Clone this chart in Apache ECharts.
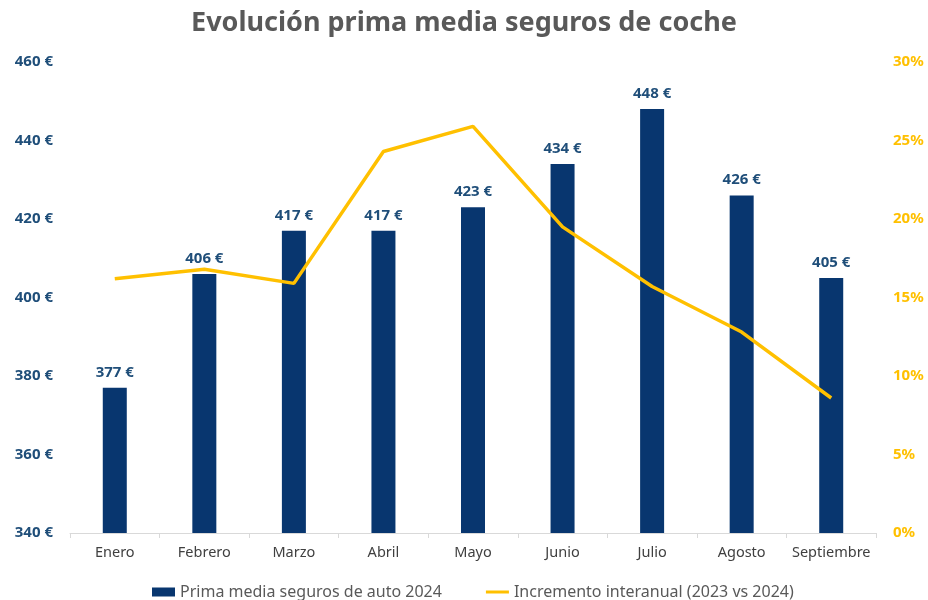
<!DOCTYPE html>
<html lang="es">
  <head>
    <meta charset="UTF-8" />
    <title>Evolución prima media seguros de coche</title>
    <script src="https://cdn.jsdelivr.net/npm/echarts@6/dist/echarts.min.js"></script>
    <style>
      html, body { margin: 0; padding: 0; background: #fff; }
      #chart { width: 928px; height: 600px; }
    </style>
  </head>
  <body>
    <div id="chart"></div>
    <script>
      var months = ["Enero", "Febrero", "Marzo", "Abril", "Mayo", "Junio", "Julio", "Agosto", "Septiembre"];
      var prima = [377, 406, 417, 417, 423, 434, 448, 426, 405];
      var incremento = [16.2, 16.8, 15.9, 24.3, 25.9, 19.5, 15.7, 12.8, 8.6];

      var blue = "#08366f";
      var labelBlue = "#1f4e79";
      var yellow = "#ffc000";
      var font = "Noto Sans";

      var chart = echarts.init(document.getElementById("chart"));
      chart.setOption({
        title: {
          text: "Evolución prima media seguros de coche",
          left: "center",
          top: 5,
          textStyle: { fontFamily: font, fontSize: 27, fontWeight: "bold", color: "#595959" },
        },
        grid: { left: 70, right: 52, top: 62, bottom: 67 },
        legend: {
          top: 579,
          left: 147,
          itemGap: 44,
          itemWidth: 23,
          itemHeight: 9,
          textStyle: { fontFamily: font, fontSize: 16, color: "#595959" },
          data: [
            { name: "Prima media seguros de auto 2024", icon: "rect" },
            { name: "Incremento interanual (2023 vs 2024)", icon: "path://M0,0 L23,0 L23,3 L0,3 Z" },
          ],
        },
        xAxis: {
          type: "category",
          data: months,
          axisLine: { lineStyle: { color: "#d9d9d9" } },
          axisTick: { show: true, lineStyle: { color: "#d9d9d9" } },
          axisLabel: { interval: 0, fontFamily: font, fontSize: 14.5, color: "#404040", margin: 12 },
        },
        yAxis: [
          {
            type: "value",
            min: 340,
            max: 460,
            interval: 20,
            splitLine: { show: false },
            axisLabel: {
              fontFamily: font, fontSize: 15, fontWeight: "bold", color: labelBlue, margin: 17,
              formatter: "{value} €",
            },
          },
          {
            type: "value",
            min: 0,
            max: 30,
            interval: 5,
            splitLine: { show: false },
            axisLabel: {
              fontFamily: font, fontSize: 15, fontWeight: "bold", color: yellow, margin: 17,
              formatter: "{value}%",
            },
          },
        ],
        series: [
          {
            name: "Prima media seguros de auto 2024",
            type: "bar",
            data: prima,
            barWidth: 24,
            itemStyle: { color: blue },
            label: {
              show: true,
              position: "top",
              distance: 8,
              fontFamily: font,
              fontSize: 15,
              fontWeight: "bold",
              color: labelBlue,
              formatter: "{c} €",
            },
          },
          {
            name: "Incremento interanual (2023 vs 2024)",
            type: "line",
            yAxisIndex: 1,
            data: incremento,
            symbol: "none",
            lineStyle: { color: yellow, width: 3.5 },
            itemStyle: { color: yellow },
          },
        ],
      });
    </script>
  </body>
</html>
